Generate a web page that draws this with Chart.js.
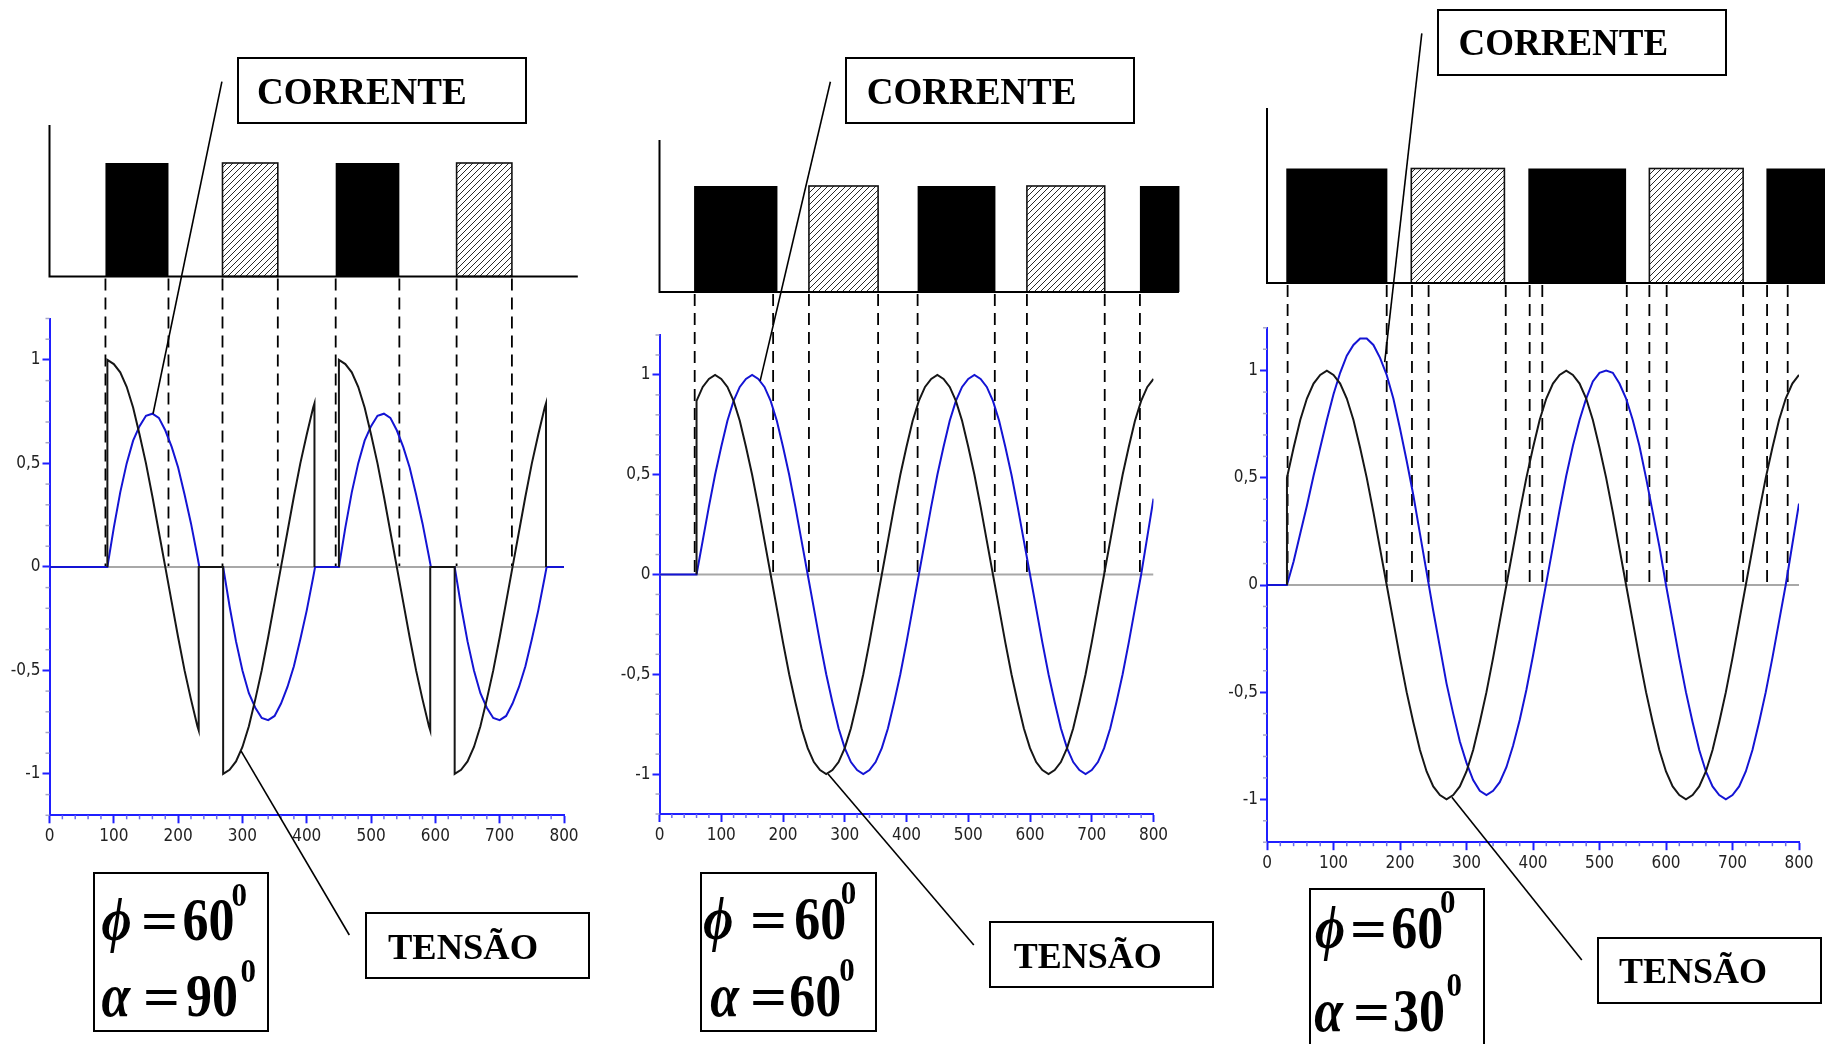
<!DOCTYPE html>
<html><head><meta charset="utf-8">
<script src="https://cdn.jsdelivr.net/npm/chart.js@4.4.1/dist/chart.umd.min.js"></script>
<style>
html,body{margin:0;padding:0;background:#fff;}
#stage{position:relative;width:1825px;height:1044px;overflow:hidden;background:#fff;}
canvas{position:absolute;left:0;top:0;}
.box{position:absolute;border:2px solid #000;box-sizing:border-box;}
.lbl{position:absolute;font-family:'Liberation Serif','Times New Roman',serif;font-weight:bold;white-space:nowrap;line-height:1;color:#000;}
</style></head><body><div id="stage"></div>
<script>
// ---------------- DATA ----------------
const xTickValues = [0,100,200,300,400,500,600,700,800];
const yTickValues = [-1,-0.5,0,0.5,1];
const zeroLine = [[0,0],[800,0]];

// Panel 1 (phi = 60, alpha = 90)
const p1Tensao = [[90,0],[90,1],[100,.98],[110,.94],[120,.87],[130,.77],[140,.64],[150,.5],[160,.34],[170,.17],[180,0],[190,-.17],[200,-.34],[210,-.5],[220,-.64],[230,-.77],[232,-.79],[232,0],[270,0],
[270,-1],[280,-.98],[290,-.94],[300,-.87],[310,-.77],[320,-.64],[330,-.5],[340,-.34],[350,-.17],[360,0],[370,.17],[380,.34],[390,.5],[400,.64],[410,.77],[412,.79],[412,0],[430,null],
[450,0],[450,1],[460,.98],[470,.94],[480,.87],[490,.77],[500,.64],[510,.5],[520,.34],[530,.17],[540,0],[550,-.17],[560,-.34],[570,-.5],[580,-.64],[590,-.77],[592,-.79],[592,0],[630,0],
[630,-1],[640,-.98],[650,-.94],[660,-.87],[670,-.77],[680,-.64],[690,-.5],[700,-.34],[710,-.17],[720,0],[730,.17],[740,.34],[750,.5],[760,.64],[770,.77],[772,.79],[772,0]];
const p1Corrente = [[0,0],[90,0],[100,.19],[110,.36],[120,.5],[130,.61],[140,.68],[150,.73],[160,.74],[170,.72],[180,.66],[190,.58],[200,.48],[210,.35],[220,.21],[230,.05],[233,0],[270,0],
[280,-.19],[290,-.36],[300,-.5],[310,-.61],[320,-.68],[330,-.73],[340,-.74],[350,-.72],[360,-.66],[370,-.58],[380,-.48],[390,-.35],[400,-.21],[410,-.05],[413,0],[450,0],
[460,.19],[470,.36],[480,.5],[490,.61],[500,.68],[510,.73],[520,.74],[530,.72],[540,.66],[550,.58],[560,.48],[570,.35],[580,.21],[590,.05],[593,0],[630,0],
[640,-.19],[650,-.36],[660,-.5],[670,-.61],[680,-.68],[690,-.73],[700,-.74],[710,-.72],[720,-.66],[730,-.58],[740,-.48],[750,-.35],[760,-.21],[770,-.05],[773,0],[800,0]];
const p1Pulses = [[87,185,'s'],[269,355,'h'],[445,544,'s'],[633,719,'h']];
const p1Dashes = [87,185,269,355,445,544,633,719];

// Panel 2 (phi = 60, alpha = 60)
const p2Tensao = [[60,0],[60,.87],[70,.94],[80,.98],[90,1],[100,.98],[110,.94],[120,.87],[130,.77],[140,.64],[150,.5],[160,.34],[170,.17],[180,0],[190,-.17],[200,-.34],[210,-.5],[220,-.64],[230,-.77],[240,-.87],[250,-.94],[260,-.98],[270,-1],[280,-.98],[290,-.94],[300,-.87],[310,-.77],[320,-.64],[330,-.5],[340,-.34],[350,-.17],[360,0],[370,.17],[380,.34],[390,.5],[400,.64],[410,.77],[420,.87],[430,.94],[440,.98],[450,1],[460,.98],[470,.94],[480,.87],[490,.77],[500,.64],[510,.5],[520,.34],[530,.17],[540,0],[550,-.17],[560,-.34],[570,-.5],[580,-.64],[590,-.77],[600,-.87],[610,-.94],[620,-.98],[630,-1],[640,-.98],[650,-.94],[660,-.87],[670,-.77],[680,-.64],[690,-.5],[700,-.34],[710,-.17],[720,0],[730,.17],[740,.34],[750,.5],[760,.64],[770,.77],[780,.87],[790,.94],[800,.98]];
const p2Corrente = [[0,0],[60,0],[70,.17],[80,.34],[90,.5],[100,.64],[110,.77],[120,.87],[130,.94],[140,.98],[150,1],[160,.98],[170,.94],[180,.87],[190,.77],[200,.64],[210,.5],[220,.34],[230,.17],[240,0],[250,-.17],[260,-.34],[270,-.5],[280,-.64],[290,-.77],[300,-.87],[310,-.94],[320,-.98],[330,-1],[340,-.98],[350,-.94],[360,-.87],[370,-.77],[380,-.64],[390,-.5],[400,-.34],[410,-.17],[420,0],[430,.17],[440,.34],[450,.5],[460,.64],[470,.77],[480,.87],[490,.94],[500,.98],[510,1],[520,.98],[530,.94],[540,.87],[550,.77],[560,.64],[570,.5],[580,.34],[590,.17],[600,0],[610,-.17],[620,-.34],[630,-.5],[640,-.64],[650,-.77],[660,-.87],[670,-.94],[680,-.98],[690,-1],[700,-.98],[710,-.94],[720,-.87],[730,-.77],[740,-.64],[750,-.5],[760,-.34],[770,-.17],[780,0],[790,.19],[800,.38]];
const p2Pulses = [[56,191,'s'],[242,354,'h'],[418,544,'s'],[595,721,'h'],[778,842,'s']];
const p2Dashes = [57,184,242,354,418,543,595,721,778];

// Panel 3 (phi = 60, alpha = 30)
const p3Tensao = [[30,0],[30,.5],[40,.64],[50,.77],[60,.87],[70,.94],[80,.98],[90,1],[100,.98],[110,.94],[120,.87],[130,.77],[140,.64],[150,.5],[160,.34],[170,.17],[180,0],[190,-.17],[200,-.34],[210,-.5],[220,-.64],[230,-.77],[240,-.87],[250,-.94],[260,-.98],[270,-1],[280,-.98],[290,-.94],[300,-.87],[310,-.77],[320,-.64],[330,-.5],[340,-.34],[350,-.17],[360,0],[370,.17],[380,.34],[390,.5],[400,.64],[410,.77],[420,.87],[430,.94],[440,.98],[450,1],[460,.98],[470,.94],[480,.87],[490,.77],[500,.64],[510,.5],[520,.34],[530,.17],[540,0],[550,-.17],[560,-.34],[570,-.5],[580,-.64],[590,-.77],[600,-.87],[610,-.94],[620,-.98],[630,-1],[640,-.98],[650,-.94],[660,-.87],[670,-.77],[680,-.64],[690,-.5],[700,-.34],[710,-.17],[720,0],[730,.17],[740,.34],[750,.5],[760,.64],[770,.77],[780,.87],[790,.94],[800,.98]];
const p3Corrente = [[0,0],[30,0],[40,.11],[50,.24],[60,.37],[70,.51],[80,.64],[90,.77],[100,.89],[110,.99],[120,1.07],[130,1.12],[140,1.15],[150,1.15],[160,1.12],[170,1.06],[180,.98],[190,.87],[200,.73],[210,.58],[220,.42],[230,.24],[240,.06],[250,-.12],[260,-.29],[270,-.46],[280,-.6],[290,-.73],[300,-.83],[310,-.91],[320,-.96],[330,-.98],[340,-.96],[350,-.92],[360,-.85],[370,-.75],[380,-.63],[390,-.49],[400,-.33],[410,-.16],[420,.01],[430,.18],[440,.35],[450,.51],[460,.65],[470,.77],[480,.87],[490,.95],[500,.99],[510,1],[520,.99],[530,.94],[540,.87],[550,.77],[560,.65],[570,.5],[580,.34],[590,.18],[600,0],[610,-.17],[620,-.34],[630,-.5],[640,-.64],[650,-.77],[660,-.87],[670,-.94],[680,-.98],[690,-1],[700,-.98],[710,-.94],[720,-.87],[730,-.77],[740,-.64],[750,-.5],[760,-.34],[770,-.17],[780,0],[790,.19],[800,.38]];
const p3Pulses = [[29,181,'s'],[217,357,'h'],[393,540,'s'],[575,716,'h'],[751,900,'s']];
const p3Dashes = [31,180,218,243,359,395,414,541,575,601,716,752,783];

// Annotation texts
const labelCorrente = 'CORRENTE';
const labelTensao = 'TENSÃO';
const phiValues = ['60','60','60'];
const alphaValues = ['90','60','30'];

// ---------------- LAYOUT ----------------
const W = 1825, H = 1044, YW = 45, XH = 40;
const TICKFONT = "'Liberation Sans Narrow','Arial Narrow','DejaVu Sans Condensed',sans-serif";
const panels = [
 {tensao:p1Tensao, corrente:p1Corrente, pulses:p1Pulses, dashes:p1Dashes,
  area:{l:49.5,r:564,t:318.5,b:815.3},
  pulse:{axisTop:125, top:163, base:276.5, end:821.5},
  leaders:[{from:[221.9,81.7],to:[161,0.74]},{from:[349.3,935],to:[298,-0.89]}],
  boxC:{l:237,t:57,w:289.5,h:67,tx:257,base:104.3,size:37},
  boxT:{l:365,t:912,w:224.5,h:66.5,tx:388,base:960,size:36.5},
  formula:{l:92.6,t:871.7,w:176.7,h:160,
    lines:[{base:69,g:'\u03D5',gx:8.8,ex:48,dx:90,sx:139},{base:145,g:'\u03B1',gx:8.8,ex:50,dx:93.5,sx:148}]}},
 {tensao:p2Tensao, corrente:p2Corrente, pulses:p2Pulses, dashes:p2Dashes,
  area:{l:659.5,r:1153.5,t:335,b:814},
  pulse:{axisTop:140, top:186, base:292, end:841.2},
  leaders:[{from:[830.4,81.7],to:[163,0.97]},{from:[973.8,945],to:[273,-1]}],
  boxC:{l:845,t:57,w:290,h:67,tx:866.7,base:104,size:37},
  boxT:{l:989,t:921,w:225,h:66.5,tx:1013.8,base:968.3,size:36},
  formula:{l:700.3,t:872.3,w:176.4,h:159.4,
    lines:[{base:67,g:'\u03D5',gx:3,ex:49.3,dx:94,sx:140.4},{base:144,g:'\u03B1',gx:10,ex:49.3,dx:89,sx:139}]}},
 {tensao:p3Tensao, corrente:p3Corrente, pulses:p3Pulses, dashes:p3Dashes,
  area:{l:1267,r:1799,t:327.8,b:842.2},
  pulse:{axisTop:108, top:168.5, base:283, end:900},
  leaders:[{from:[1421.8,33.3],to:[177,1.04]},{from:[1581.8,960],to:[278,-0.99]}],
  boxC:{l:1437,t:9,w:290,h:67,tx:1458.5,base:55,size:37},
  boxT:{l:1597,t:937,w:225,h:67,tx:1619,base:982.7,size:36},
  formula:{l:1308.9,t:888.3,w:176.2,h:180,
    lines:[{base:60,g:'\u03D5',gx:6,ex:40.6,dx:82.4,sx:131},{base:143,g:'\u03B1',gx:5.4,ex:44,dx:84,sx:137.7}]}}
];

const stage = document.getElementById('stage');

function makeHatch(ctx){
  const c = document.createElement('canvas'); c.width = 6; c.height = 6;
  const g = c.getContext('2d');
  g.fillStyle = '#fff'; g.fillRect(0,0,6,6);
  g.strokeStyle = '#2a2a2a'; g.lineWidth = 1;
  g.beginPath();
  g.moveTo(0,6); g.lineTo(6,0);
  g.moveTo(-1,1); g.lineTo(1,-1);
  g.moveTo(5,7); g.lineTo(7,5);
  g.stroke();
  return ctx.createPattern(c,'repeat');
}

function makeExtras(P){
  return {
    id:'extras',
    beforeDatasetsDraw(chart){
      const {ctx, scales:{x, y}} = chart;
      const y0 = y.getPixelForValue(0);
      ctx.save();
      ctx.strokeStyle = '#000'; ctx.lineWidth = 1.8; ctx.setLineDash([12,7]);
      P.dashes.forEach(v => {
        const px = x.getPixelForValue(v);
        ctx.beginPath(); ctx.moveTo(px, P.pulse.base + 2); ctx.lineTo(px, y0); ctx.stroke();
      });
      ctx.restore();
    },
    afterDraw(chart){
      const {ctx, scales:{x, y}, chartArea:a} = chart;
      ctx.save();
      // minor ticks
      ctx.lineWidth = 1.5; ctx.strokeStyle = '#6b6bf0';
      for (let k = 0; k <= 40; k++) {
        if (k % 5 === 0) continue;
        const px = x.getPixelForValue(k * 20);
        ctx.beginPath(); ctx.moveTo(px, a.bottom); ctx.lineTo(px, a.bottom + 4); ctx.stroke();
      }
      ctx.strokeStyle = '#a6a6c8';
      for (let k = -12; k <= 12; k++) {
        if (k % 5 === 0) continue;
        const py = y.getPixelForValue(k / 10);
        ctx.beginPath(); ctx.moveTo(a.left, py); ctx.lineTo(a.left - 4, py); ctx.stroke();
      }
      // pulse diagram
      const pp = P.pulse;
      const hatch = makeHatch(ctx);
      P.pulses.forEach(([s, e, t]) => {
        const x1 = x.getPixelForValue(s), x2 = x.getPixelForValue(e);
        if (t === 's') {
          ctx.fillStyle = '#000'; ctx.fillRect(x1, pp.top, x2 - x1, pp.base - pp.top);
        } else {
          ctx.fillStyle = hatch; ctx.fillRect(x1, pp.top, x2 - x1, pp.base - pp.top);
          ctx.strokeStyle = '#111'; ctx.lineWidth = 1.6;
          ctx.strokeRect(x1, pp.top, x2 - x1, pp.base - pp.top);
        }
      });
      ctx.strokeStyle = '#000'; ctx.lineWidth = 2;
      const x0 = x.getPixelForValue(0);
      ctx.beginPath();
      ctx.moveTo(x0, pp.axisTop); ctx.lineTo(x0, pp.base);
      ctx.lineTo(x.getPixelForValue(pp.end), pp.base);
      ctx.stroke();
      // leader lines
      ctx.lineWidth = 1.6; ctx.strokeStyle = '#000';
      P.leaders.forEach(L => {
        ctx.beginPath();
        ctx.moveTo(L.from[0], L.from[1]);
        ctx.lineTo(x.getPixelForValue(L.to[0]), y.getPixelForValue(L.to[1]));
        ctx.stroke();
      });
      ctx.restore();
    }
  };
}

function addBox(b){
  const d = document.createElement('div'); d.className = 'box';
  d.style.left = b.l + 'px'; d.style.top = b.t + 'px'; d.style.width = b.w + 'px'; d.style.height = b.h + 'px';
  stage.appendChild(d);
}
function addText(text, x, base, size, opts){
  opts = opts || {};
  const s = document.createElement('span'); s.className = 'lbl';
  s.textContent = text;
  const asc = 0.8375 * size;
  s.style.left = x + 'px'; s.style.top = (base - asc) + 'px';
  s.style.fontSize = size + 'px';
  if (opts.italic) s.style.fontStyle = 'italic';
  const sx = opts.sx || 1, sy = opts.sy || 1;
  s.style.transformOrigin = '0 ' + asc + 'px';
  s.style.transform = 'scale(' + sx + ',' + sy + ')';
  stage.appendChild(s);
}

panels.forEach((P, i) => {
  const cv = document.createElement('canvas');
  cv.width = W; cv.height = H; cv.style.width = W + 'px'; cv.style.height = H + 'px';
  stage.appendChild(cv);
  const a = P.area;
  new Chart(cv, {
    type: 'line',
    data: { datasets: [
      { label: 'Tensão', data: P.tensao, borderColor: '#161616', borderWidth: 2, pointRadius: 0, tension: 0, order: 0 },
      { label: 'Corrente', data: P.corrente, borderColor: '#1414d4', borderWidth: 2, pointRadius: 0, tension: 0, order: 1 },
      { label: 'zero', data: zeroLine, borderColor: '#a8a8a8', borderWidth: 2, pointRadius: 0, order: 2 }
    ]},
    options: {
      responsive: false, animation: false, devicePixelRatio: 1, events: [],
      layout: { padding: { left: a.l - YW, right: W - a.r, top: a.t, bottom: H - a.b - XH } },
      plugins: { legend: { display: false }, tooltip: { enabled: false } },
      scales: {
        x: { type: 'linear', min: 0, max: 800,
          afterFit: s => { s.height = XH; },
          afterBuildTicks: s => { s.ticks = xTickValues.map(v => ({ value: v })); },
          ticks: { stepSize: 100, includeBounds: false, maxRotation: 0, autoSkip: false, padding: 3, color: '#222',
                   font: { family: TICKFONT, size: 17 } },
          grid: { drawOnChartArea: false, tickLength: 8, tickColor: '#1f1fff', tickWidth: 2 },
          border: { color: '#1f1fff', width: 2 } },
        y: { type: 'linear', min: -1.2, max: 1.2,
          afterFit: s => { s.width = YW; },
          afterBuildTicks: s => { s.ticks = yTickValues.map(v => ({ value: v })); },
          ticks: { stepSize: 0.5, includeBounds: false, padding: 2, color: '#222',
                   font: { family: TICKFONT, size: 17 },
                   callback: v => String(v).replace('.', ',') },
          grid: { drawOnChartArea: false, tickLength: 7, tickColor: '#1f1fff', tickWidth: 2 },
          border: { color: '#1f1fff', width: 2 } }
      }
    },
    plugins: [makeExtras(P)]
  });

  // label boxes
  addBox(P.boxC); addText(labelCorrente, P.boxC.tx, P.boxC.base, P.boxC.size);
  addBox(P.boxT); addText(labelTensao, P.boxT.tx, P.boxT.base, P.boxT.size);
  // formula box
  const F = P.formula; addBox(F);
  const vals = [phiValues[i], alphaValues[i]];
  F.lines.forEach((ln, j) => {
    const b = F.t + ln.base;
    addText(ln.g, F.l + ln.gx, b, 52, { italic: true, sy: 1.17 });
    addText('=', F.l + ln.ex, b, 52, { sx: 1.25, sy: 1.1 });
    addText(vals[j], F.l + ln.dx, b, 52, { sy: 1.17 });
    addText('0', F.l + ln.sx, b - 35, 31, { sy: 1.1 });
  });
});
</script></body></html>
